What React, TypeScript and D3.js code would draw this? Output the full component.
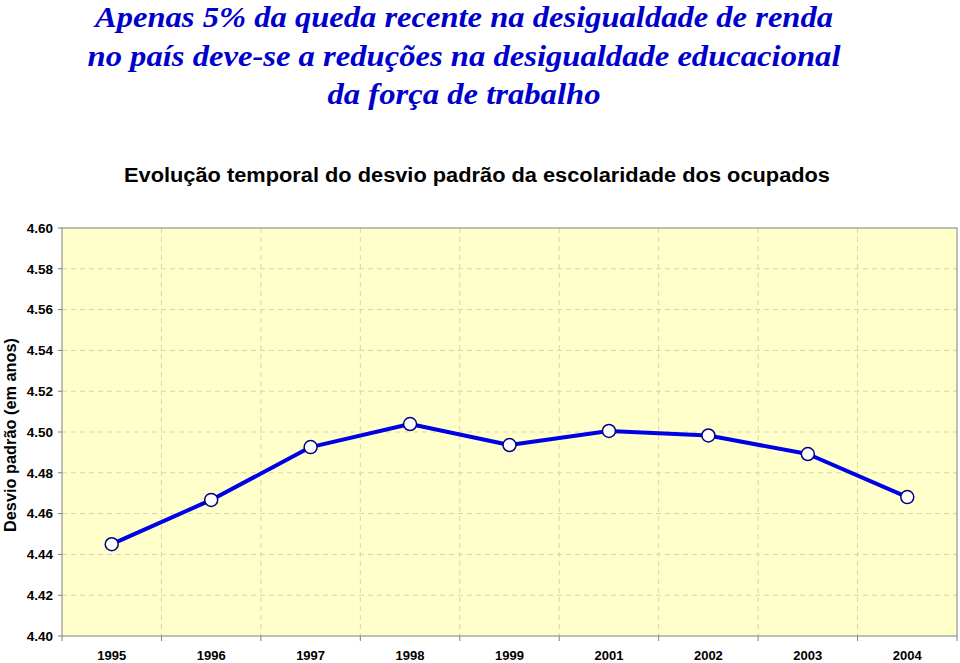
import React from "react";
import * as d3 from "d3";

const years = ["1995", "1996", "1997", "1998", "1999", "2001", "2002", "2003", "2004"];
const values = [4.445, 4.4667, 4.4926, 4.5039, 4.4936, 4.5005, 4.4983, 4.4892, 4.4681];
const yTicks = [4.4, 4.42, 4.44, 4.46, 4.48, 4.5, 4.52, 4.54, 4.56, 4.58, 4.6];
const titleLines = [
  "Apenas 5% da queda recente na desigualdade de renda",
  "no país deve-se a reduções na desigualdade educacional",
  "da força de trabalho",
];
const titleWidths = [738, 753, 273];
const subtitle = "Evolução temporal do desvio padrão da escolaridade dos ocupados";
const yLabel = "Desvio padrão (em anos)";

export default function App() {
  const W = 960, H = 663;
  const left = 62, right = 957, top = 228, bottom = 636;
  const x = d3.scaleBand<string>().domain(years).range([left, right]);
  const y = d3.scaleLinear().domain([4.4, 4.6]).range([bottom, top]);
  const line = d3
    .line<number>()
    .x((_, i) => (x(years[i]) as number) + x.bandwidth() / 2)
    .y((d) => y(d));
  const bounds = years.map((yr) => x(yr) as number).concat([right]);
  const sans = "'Liberation Sans', Arial, sans-serif";

  return (
    <svg width={W} height={H} style={{ position: "absolute", left: 0, top: 0, display: "block" }}>
      <rect x={0} y={0} width={W} height={H} fill="#ffffff" />
      {titleLines.map((t, i) => (
        <text
          key={t}
          x={464}
          y={27 + i * 38.5}
          textAnchor="middle"
          textLength={titleWidths[i]}
          lengthAdjust="spacingAndGlyphs"
          fontFamily="'Liberation Serif', 'Times New Roman', serif"
          fontStyle="italic"
          fontWeight="bold"
          fontSize={30}
          fill="#0000CC"
        >
          {t}
        </text>
      ))}
      <text
        x={477}
        y={182}
        textAnchor="middle"
        textLength={706}
        lengthAdjust="spacingAndGlyphs"
        fontFamily={sans}
        fontWeight="bold"
        fontSize={19.5}
        fill="#000"
      >
        {subtitle}
      </text>
      <rect x={left} y={top} width={right - left} height={bottom - top} fill="#FFFFCC" />
      {yTicks.slice(1, -1).map((t) => (
        <line key={t} x1={left} x2={right} y1={y(t)} y2={y(t)} stroke="#d9d4a8" strokeDasharray="5,4" strokeWidth={1} />
      ))}
      {bounds.slice(1, -1).map((b, i) => (
        <line key={i} x1={b} x2={b} y1={top} y2={bottom} stroke="#d9d4a8" strokeDasharray="5,4" strokeWidth={1} />
      ))}
      <rect x={left} y={top} width={right - left} height={bottom - top} fill="none" stroke="#808080" strokeWidth={1} />
      {yTicks.map((t) => (
        <g key={t}>
          <line x1={left - 4} x2={left} y1={y(t)} y2={y(t)} stroke="#808080" />
          <text
            x={53}
            y={y(t)}
            dy="0.36em"
            textAnchor="end"
            fontFamily={sans}
            fontWeight="bold"
            fontSize={13.5}
          >
            {t.toFixed(2)}
          </text>
        </g>
      ))}
      {bounds.map((b, i) => (
        <line key={i} x1={b} x2={b} y1={bottom} y2={bottom + 5} stroke="#808080" />
      ))}
      {years.map((yr) => (
        <text
          key={yr}
          x={(x(yr) as number) + x.bandwidth() / 2}
          y={660}
          textAnchor="middle"
          fontFamily={sans}
          fontWeight="bold"
          fontSize={13}
        >
          {yr}
        </text>
      ))}
      <text
        transform={`translate(16, 435) rotate(-90)`}
        textAnchor="middle"
        textLength={194}
        lengthAdjust="spacingAndGlyphs"
        fontFamily={sans}
        fontWeight="bold"
        fontSize={17}
      >
        {yLabel}
      </text>
      <path d={line(values) as string} fill="none" stroke="#0000E6" strokeWidth={4} strokeLinejoin="round" />
      {values.map((v, i) => (
        <circle
          key={i}
          cx={(x(years[i]) as number) + x.bandwidth() / 2}
          cy={y(v)}
          r={6.5}
          fill="#ffffff"
          stroke="#000080"
          strokeWidth={1.5}
        />
      ))}
    </svg>
  );
}
